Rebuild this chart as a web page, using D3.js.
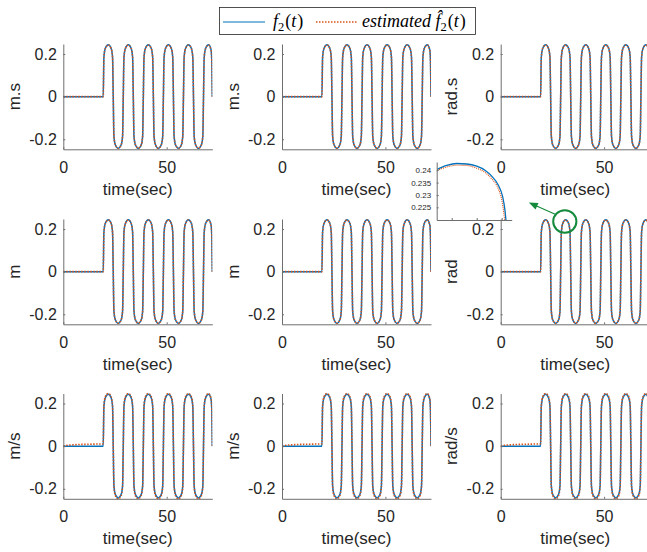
<!DOCTYPE html>
<html>
<head>
<meta charset="utf-8">
<script src="https://cdn.jsdelivr.net/npm/d3@7"></script>
<style>
body { margin: 0; background: #fff; }
svg { display: block; }
</style>
</head>
<body>
<div id="chart"></div>
<script>
// time axis (sec) and the signal values
var timeSec = [
    0, 2, 6, 12, 19.3,
    19.63, 20.3, 21.73, 23.15, 23.82, 24.15,
    24.48, 25.15, 26.58, 28.0, 28.67, 29.0,
    29.33, 30.0, 31.43, 32.85, 33.52, 33.85,
    34.18, 34.85, 36.28, 37.7, 38.37, 38.7,
    39.03, 39.7, 41.13, 42.55, 43.22, 43.55,
    43.88, 44.55, 45.98, 47.4, 48.07, 48.4,
    48.73, 49.4, 50.83, 52.25, 52.92, 53.25,
    53.58, 54.25, 55.68, 57.1, 57.77, 58.1,
    58.43, 59.1, 60.53, 61.95, 62.62, 62.95,
    63.28, 63.95, 65.38, 66.8, 67.47, 67.8,
    68.13, 68.8, 70.23, 71.45, 71.8, 72.05
];

var f2True = [
    0, 0, 0, 0, 0,
    0.185, 0.226, 0.243, 0.226, 0.185, 0,
    -0.185, -0.226, -0.243, -0.226, -0.185, 0,
    0.185, 0.226, 0.243, 0.226, 0.185, 0,
    -0.185, -0.226, -0.243, -0.226, -0.185, 0,
    0.185, 0.226, 0.243, 0.226, 0.185, 0,
    -0.185, -0.226, -0.243, -0.226, -0.185, 0,
    0.185, 0.226, 0.243, 0.226, 0.185, 0,
    -0.185, -0.226, -0.243, -0.226, -0.185, 0,
    0.185, 0.226, 0.243, 0.226, 0.185, 0,
    -0.185, -0.226, -0.243, -0.226, -0.185, 0,
    0.185, 0.226, 0.243, 0.22, 0.17, 0
];

// estimate for the position-type rows (m.s and m)
var f2EstPos = [
    0, 0, 0, 0, 0,
    0.184, 0.2255, 0.2421, 0.2255, 0.184, 0,
    -0.184, -0.2255, -0.2421, -0.2255, -0.184, 0,
    0.184, 0.2255, 0.2421, 0.2255, 0.184, 0,
    -0.184, -0.2255, -0.2421, -0.2255, -0.184, 0,
    0.184, 0.2255, 0.2421, 0.2255, 0.184, 0,
    -0.184, -0.2255, -0.2421, -0.2255, -0.184, 0,
    0.184, 0.2255, 0.2421, 0.2255, 0.184, 0,
    -0.184, -0.2255, -0.2421, -0.2255, -0.184, 0,
    0.184, 0.2255, 0.2421, 0.2255, 0.184, 0,
    -0.184, -0.2255, -0.2421, -0.2255, -0.184, 0,
    0.184, 0.2255, 0.2421, 0.219, 0.17, 0
];

// estimate for the velocity rows (m/s, rad/s): small drift before the step
var f2EstVel = [
    0, 0.004, 0.007, 0.009, 0.011,
    0.19, 0.231, 0.247, 0.231, 0.19, 0,
    -0.19, -0.231, -0.247, -0.231, -0.19, 0,
    0.19, 0.231, 0.247, 0.231, 0.19, 0,
    -0.19, -0.231, -0.247, -0.231, -0.19, 0,
    0.19, 0.231, 0.247, 0.231, 0.19, 0,
    -0.19, -0.231, -0.247, -0.231, -0.19, 0,
    0.19, 0.231, 0.247, 0.231, 0.19, 0,
    -0.19, -0.231, -0.247, -0.231, -0.19, 0,
    0.19, 0.231, 0.247, 0.231, 0.19, 0,
    -0.19, -0.231, -0.247, -0.231, -0.19, 0,
    0.19, 0.231, 0.247, 0.224, 0.174, 0
];

var yLabels = ["m.s", "m.s", "rad.s", "m", "m", "rad", "m/s", "m/s", "rad/s"];
var xTicks = [0, 50];
var yTicks = [-0.2, 0, 0.2];

// zoomed inset around the 2nd peak of the "rad" panel
var insetTime = [30.9425, 30.98, 31.02, 31.06, 31.10, 31.133, 31.16, 31.186, 31.204, 31.213, 31.217];
var insetTrue = [0.2403, 0.2419, 0.2427, 0.2425, 0.2416, 0.2400, 0.2376, 0.2340, 0.2292, 0.2239, 0.2199];
var insetEstTime = [30.9425, 30.98, 31.02, 31.06, 31.10, 31.133, 31.16, 31.186, 31.2, 31.208, 31.212];
var insetEst = [0.2399, 0.2413, 0.2420, 0.2419, 0.2408, 0.2391, 0.2365, 0.2326, 0.2282, 0.2232, 0.2199];
var insetYTicks = [0.225, 0.23, 0.235, 0.24];
var insetXTicks = [31.0, 31.1, 31.2];

var blue = "#0072BD", red = "#D95319", axisGrey = "#6e6e6e", textCol = "#262626";
var sans = "'Liberation Sans', Arial, sans-serif";

var svg = d3.select("#chart")
        .append("svg")
        .attr("width", 647)
        .attr("height", 552)
        .style("background-color", "#fff");

var colX = [63.3, 282, 500.7];
var rowY = [44, 219, 393.5];
var pw = 149, ph = 105.3;

var x = d3.scaleLinear().domain([0, 72.05]).range([0, pw]);
var y = d3.scaleLinear().domain([-0.247, 0.247]).range([ph, 0]);

function styleAxis(g, size) {
    g.select(".domain").attr("stroke", axisGrey);
    g.selectAll(".tick line").attr("stroke", axisGrey);
    g.selectAll("text")
            .attr("fill", textCol)
            .attr("font-size", size)
            .attr("font-family", sans);
}

function drawPanel(idx) {
    var r = Math.floor(idx / 3), c = idx % 3;
    var est = r < 2 ? f2EstPos : f2EstVel;
    var g = svg.append("g")
            .attr("transform", "translate(" + colX[c] + "," + rowY[r] + ")");

    g.append("clipPath")
            .attr("id", "clip" + idx)
            .append("rect")
            .attr("x", 0).attr("y", -1)
            .attr("width", pw).attr("height", ph + 2);

    var line = d3.line()
            .x((d, i) => x(timeSec[i]))
            .y((d) => y(d))
            .curve(d3.curveMonotoneX);

    var plot = g.append("g").attr("clip-path", "url(#clip" + idx + ")");
    plot.append("path")
            .attr("d", line(f2True))
            .attr("fill", "none")
            .attr("stroke", blue)
            .attr("stroke-width", 1.5);
    plot.append("path")
            .attr("d", line(est))
            .attr("fill", "none")
            .attr("stroke", red)
            .attr("stroke-width", 1.6)
            .attr("stroke-dasharray", "1.5,1.5");

    var ya = g.append("g")
            .call(d3.axisLeft(y).tickValues(yTicks).tickSize(-2).tickSizeOuter(0)
                    .tickPadding(6.5).tickFormat((d) => String(d)));
    styleAxis(ya, 16);

    var xa = g.append("g")
            .attr("transform", "translate(0," + ph + ")")
            .call(d3.axisBottom(x).tickValues(xTicks).tickSize(-2).tickSizeOuter(0)
                    .tickPadding(12).tickFormat((d) => String(d)));
    styleAxis(xa, 16);

    g.append("text")
            .attr("x", pw / 2)
            .attr("y", ph + 45.5)
            .attr("text-anchor", "middle")
            .attr("font-family", sans)
            .attr("font-size", 17)
            .attr("fill", textCol)
            .text("time(sec)");

    g.append("text")
            .attr("transform", "translate(-43.5," + (ph / 2) + ") rotate(-90)")
            .attr("text-anchor", "middle")
            .attr("font-family", sans)
            .attr("font-size", 17)
            .attr("fill", textCol)
            .text(yLabels[idx]);
}

for (var i = 0; i < 9; i++) {
    drawPanel(i);
}

// inset
var inset = svg.append("g").attr("transform", "translate(436.7,162)");
var iw = 75, ih = 58;
var ix = d3.scaleLinear().domain([30.94, 31.24]).range([0, iw]);
var iy = d3.scaleLinear().domain([0.2199, 0.2433]).range([ih, 0]);

inset.append("path")
        .attr("d", d3.line().x((d, i) => ix(insetTime[i])).y((d) => iy(d)).curve(d3.curveMonotoneX)(insetTrue))
        .attr("fill", "none")
        .attr("stroke", blue)
        .attr("stroke-width", 1.3);
inset.append("path")
        .attr("d", d3.line().x((d, i) => ix(insetEstTime[i])).y((d) => iy(d)).curve(d3.curveMonotoneX)(insetEst))
        .attr("fill", "none")
        .attr("stroke", red)
        .attr("stroke-width", 1.2)
        .attr("stroke-dasharray", "1,1");

var iya = inset.append("g")
        .call(d3.axisLeft(iy).tickValues(insetYTicks).tickSize(-2).tickSizeOuter(0)
                .tickPadding(5.5).tickFormat((d) => String(d)));
styleAxis(iya, 8);
var ixa = inset.append("g")
        .attr("transform", "translate(0," + ih + ")")
        .call(d3.axisBottom(ix).tickValues(insetXTicks).tickSize(-2).tickSizeOuter(0).tickFormat(""));
styleAxis(ixa, 8);

// green marker + arrow pointing at the inset
var focusX = colX[2] + x(31.0), focusY = rowY[1] + y(0.235);
var green = "#138a3c";
svg.append("ellipse")
        .attr("cx", focusX).attr("cy", focusY)
        .attr("rx", 11.6).attr("ry", 11.3)
        .attr("fill", "none")
        .attr("stroke", green)
        .attr("stroke-width", 2);
var ax0 = focusX - 9, ay0 = focusY - 7, ax1 = focusX - 36, ay1 = focusY - 19;
var ang = Math.atan2(ay1 - ay0, ax1 - ax0);
svg.append("line")
        .attr("x1", ax0).attr("y1", ay0)
        .attr("x2", ax1 - 6 * Math.cos(ang)).attr("y2", ay1 - 6 * Math.sin(ang))
        .attr("stroke", green)
        .attr("stroke-width", 1.1);
var hl = 9, hw = 3.6;
var bx = ax1 - hl * Math.cos(ang), by = ay1 - hl * Math.sin(ang);
svg.append("path")
        .attr("d", "M" + ax1 + "," + ay1 +
                "L" + (bx + hw * Math.sin(ang)) + "," + (by - hw * Math.cos(ang)) +
                "L" + (bx - hw * Math.sin(ang)) + "," + (by + hw * Math.cos(ang)) + "Z")
        .attr("fill", green);

// legend
var legend = svg.append("g");
legend.append("rect")
        .attr("x", 219.5).attr("y", 7.5)
        .attr("width", 256).attr("height", 27)
        .attr("fill", "#fff")
        .attr("stroke", textCol)
        .attr("stroke-width", 0.8);
legend.append("line")
        .attr("x1", 223).attr("x2", 265).attr("y1", 22).attr("y2", 22)
        .attr("stroke", blue).attr("stroke-width", 1.2);
legend.append("line")
        .attr("x1", 316).attr("x2", 358).attr("y1", 22).attr("y2", 22)
        .attr("stroke", red).attr("stroke-width", 1.6).attr("stroke-dasharray", "1.5,1.5");

function mathLabel(xpos, prefix, hat) {
    var t = legend.append("text")
            .attr("x", xpos).attr("y", 27)
            .attr("font-family", "'Liberation Serif', 'DejaVu Serif', serif")
            .attr("font-size", 18)
            .attr("font-style", "italic")
            .attr("fill", "#000");
    t.append("tspan").text(prefix + (hat ? "f\u0302" : "f"));
    t.append("tspan").attr("font-size", 12.5).attr("font-style", "normal").attr("dy", 4).text("2");
    t.append("tspan").attr("font-style", "normal").attr("dy", -4).attr("dx", 1).text("(");
    t.append("tspan").text("t");
    t.append("tspan").attr("font-style", "normal").attr("dx", 1).text(")");
}
mathLabel(273, "", false);
mathLabel(362, "estimated ", true);
</script>
</body>
</html>
